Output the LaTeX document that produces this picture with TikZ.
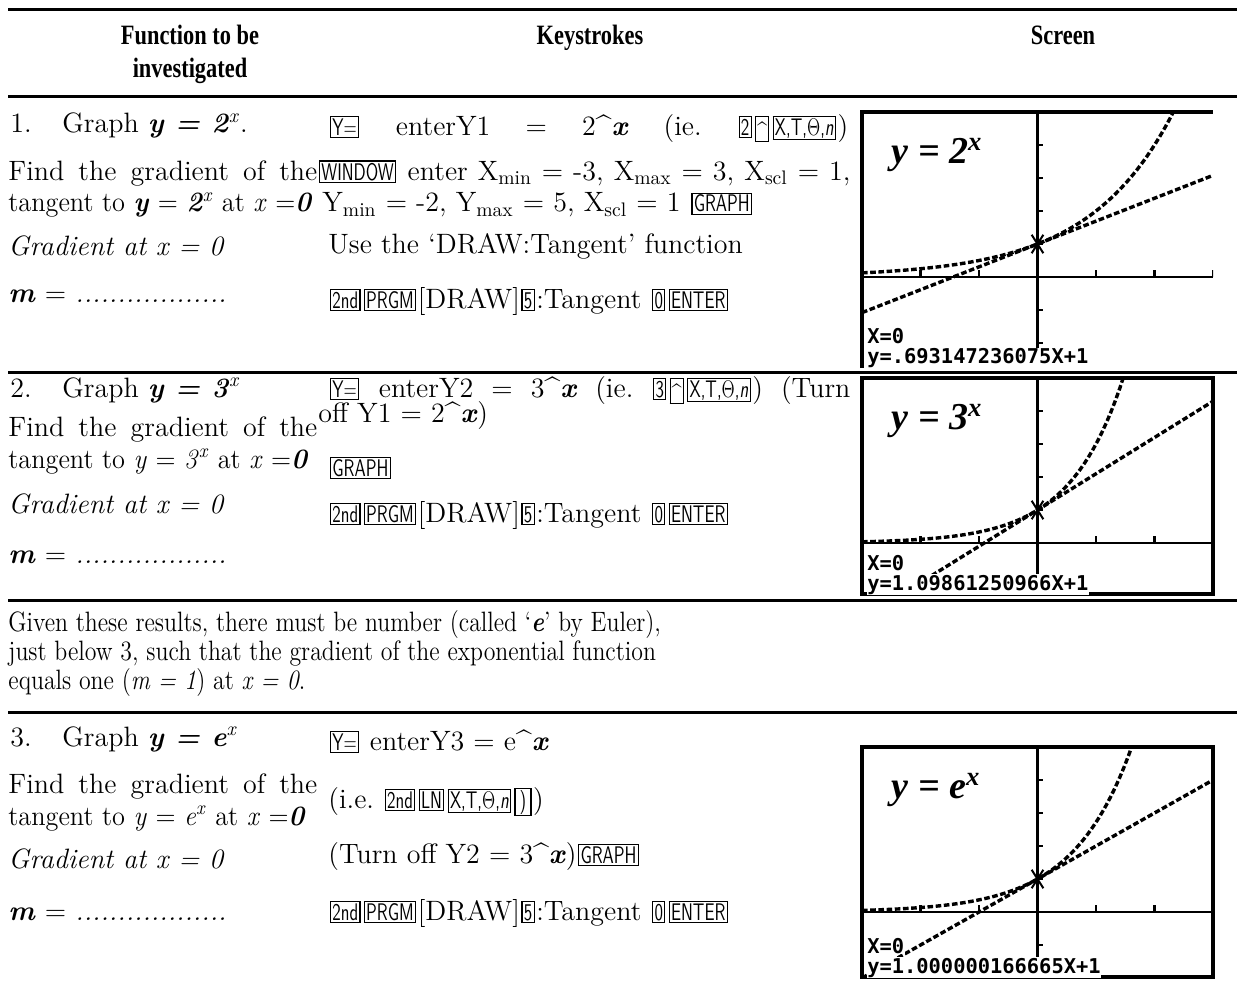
\documentclass[tikz,border=0pt]{standalone}
\usepackage{fontspec}
\usepackage{graphicx}
\newfontfamily\lcdfont{DejaVu Sans Mono}
\newfontfamily\headfont{Liberation Serif}
\newcommand{\calckey}[1]{\kern0.8pt\relax{\setlength{\fboxsep}{0.6pt}\setlength{\fboxrule}{0.6pt}\fbox{\fontsize{12}{12}\selectfont\sffamily\scalebox{0.72}[1]{\rule[-0.4pt]{0pt}{8.6pt}#1}}}\kern0.8pt\relax}
\newcommand{\bi}[1]{\textbf{\textit{#1}}}
\newcommand{\xtkey}{X,T,$\Theta$,\textit{n}}
\newcommand{\caretkey}{\calckey{\raisebox{-2.2pt}{\textasciicircum}}}
\tikzset{
  txt/.style={anchor=base west, inner sep=0pt, font=\fontsize{14}{16}\selectfont},
  head/.style={anchor=base, inner sep=0pt, font=\headfont\fontsize{14}{16}\selectfont\bfseries},
  rule/.style={line width=1.5pt},
  scrframe/.style={line width=1.7pt},
  lcdaxis/.style={line width=1.3pt},
  lcdplot/.style={line width=1.7pt, dash pattern=on 2.8pt off 1.3pt},
  lcdtext/.style={anchor=base west, inner sep=0.4pt, fill=white, font=\lcdfont\bfseries\fontsize{10.2}{10.2}\selectfont},
  lcdlabel/.style={anchor=base west, inner sep=0pt, font=\headfont\fontsize{19}{19}\selectfont\bfseries\itshape}
}
\begin{document}
\begin{tikzpicture}[x=0.5pt,y=-0.5pt]
  \useasboundingbox (0,0) rectangle (1237,990);
  % table rules
  \foreach \ry in {10,97,372,600,712}
    \draw[rule] (8,\ry) -- (1237,\ry);
  % headings
  \node[head] (hfunc) at (190,45) {\scalebox{0.8}[1]{Function to be}};
  \node[head] (hfuncb) at (190,78) {\scalebox{0.8}[1]{investigated}};
  \node[head] (hkeys) at (590,45) {\scalebox{0.8}[1]{Keystrokes}};
  \node[head] (hscreen) at (1063,45) {\scalebox{0.8}[1]{Screen}};
  % row 1
  \node[txt] (oneGraph) at (10,133) {\makebox[26pt][l]{1.}Graph \bi{y = 2}\textsuperscript{\textit{x}}.};
  \node[txt] (oneFind) at (8,180) {\makebox[154.5pt][s]{Find the gradient of the}};
  \node[txt] (oneTan) at (8,212) {\scalebox{0.94}[1]{tangent to \bi{y} = \bi{2}\textsuperscript{\textit{x}} at \textit{x} =\bi{0}}};
  \node[txt] (oneGrad) at (8,255) {\textit{Gradient at x = 0}};
  \node[txt] (oneM) at (8,302) {\bi{m} = \textit{..................}};
  \node[txt] (oneKa) at (328,135) {\makebox[260pt][s]{\calckey{Y=} enterY1 = 2\textasciicircum\bi{x} (ie.\ \calckey{2}\caretkey\calckey{\xtkey})}};
  \node[txt] (oneKb) at (317,180) {\makebox[266.5pt][s]{\calckey{WINDOW} enter X\textsubscript{min} = -3, X\textsubscript{max} = 3, X\textsubscript{scl} = 1,}};
  \node[txt] (oneKc) at (322,212) {Y\textsubscript{min} = -2, Y\textsubscript{max} = 5, X\textsubscript{scl} = 1 \calckey{GRAPH}};
  \node[txt] (oneKd) at (328,253) {Use the `DRAW:Tangent' function};
  \node[txt] (oneKe) at (328,308) {\calckey{2nd}\calckey{PRGM}[DRAW]\calckey{5}:Tangent \calckey{0}\calckey{ENTER}};
  % row 2
  \node[txt] (twoGraph) at (10,397) {\makebox[26pt][l]{2.}Graph \bi{y = 3}\textsuperscript{\textit{x}}};
  \node[txt] (twoFind) at (8,436) {\makebox[154.5pt][s]{Find the gradient of the}};
  \node[txt] (twoTan) at (8,468) {\scalebox{0.94}[1]{tangent to \textit{y} = \textit{3}\textsuperscript{\textit{x}} at \textit{x} =\bi{0}}};
  \node[txt] (twoGrad) at (8,513) {\textit{Gradient at x = 0}};
  \node[txt] (twoM) at (8,563) {\bi{m} = \textit{..................}};
  \node[txt] (twoKa) at (328,397) {\makebox[261pt][s]{\calckey{Y=} enterY2 = 3\textasciicircum\bi{x} (ie.\ \calckey{3}\caretkey\calckey{\xtkey}) (Turn}};
  \node[txt] (twoKb) at (318,422) {off Y1 = 2\textasciicircum\bi{x})};
  \node[txt] (twoKc) at (328,476) {\calckey{GRAPH}};
  \node[txt] (twoKd) at (328,522) {\calckey{2nd}\calckey{PRGM}[DRAW]\calckey{5}:Tangent \calckey{0}\calckey{ENTER}};
  % note on e
  \node[txt] (paraA) at (8,631) {\scalebox{0.85}[1]{Given these results, there must be number (called `\bi{e}' by Euler),}};
  \node[txt] (paraB) at (8,660) {\scalebox{0.85}[1]{just below 3, such that the gradient of the exponential function}};
  \node[txt] (paraC) at (8,689) {\scalebox{0.85}[1]{equals one (\textit{m = 1}) at \textit{x = 0}.}};
  % row 3
  \node[txt] (threeGraph) at (10,746) {\makebox[26pt][l]{3.}Graph \bi{y = e}\textsuperscript{\textit{x}}};
  \node[txt] (threeFind) at (8,793) {\makebox[154.5pt][s]{Find the gradient of the}};
  \node[txt] (threeTan) at (8,825) {\scalebox{0.94}[1]{tangent to \textit{y} = \textit{e}\textsuperscript{\textit{x}} at \textit{x} =\bi{0}}};
  \node[txt] (threeGrad) at (8,868) {\textit{Gradient at x = 0}};
  \node[txt] (threeM) at (8,920) {\bi{m} = \textit{..................}};
  \node[txt] (threeKa) at (328,750) {\calckey{Y=} enterY3 = e\textasciicircum\bi{x}};
  \node[txt] (threeKb) at (328,808) {(i.e.\ \calckey{2nd}\calckey{LN}\calckey{\xtkey}\calckey{\,)\,})};
  \node[txt] (threeKc) at (328,863) {(Turn off Y2 = 3\textasciicircum\bi{x})\calckey{GRAPH}};
  \node[txt] (threeKd) at (328,920) {\calckey{2nd}\calckey{PRGM}[DRAW]\calckey{5}:Tangent \calckey{0}\calckey{ENTER}};
  % screens
  \draw[scrframe] (862,368) |- (1213,112);
  \draw[scrframe] (862,378) rectangle (1213,594);
  \draw[scrframe] (862,747) rectangle (1213,977);
  \foreach \sy/\ymin/\lnb/\base/\slope in {112/-2.75/0.693147/2/.693147236075, 378/-1.55/1.098612/3/1.09861250966, 747/-1.97/1/e/1.000000166665}
  {
    \begin{scope}[shift={(1037.5,\sy+165)}, x=29.25pt, y=16.5pt]
      \begin{scope}
        \clip (-3,\ymin) rectangle (3,5);
        \draw[lcdaxis] (-3,0) -- (3,0);
        \draw[lcdaxis] (0,\ymin) -- (0,5);
        \foreach \tk in {-3,...,3}
          \draw[lcdaxis] (\tk,0) -- (\tk,0.2);
        \foreach \tk in {-2,...,5}
          \draw[lcdaxis] (0,\tk) -- (0.1,\tk);
        \draw[lcdplot] plot[domain=-3:3, samples=80] (\x,{exp(\lnb*\x)});
        \draw[lcdplot] (-3,{1-3*\lnb}) -- (3,{1+3*\lnb});
        \draw[line width=1pt] (-0.1,0.72) -- (0.1,1.28) (-0.1,1.28) -- (0.1,0.72);
      \end{scope}
      \node[lcdtext] (xzero\base) at (-2.93,\ymin+0.72) {X=0};
      \node[lcdtext] (tline\base) at (-2.93,\ymin+0.12) {y=\slope X+1};
      \node[lcdlabel] (lbl\base) at (-2.5,3.45) {y = \base\textsuperscript{x}};
    \end{scope}
  }
\end{tikzpicture}
\end{document}
